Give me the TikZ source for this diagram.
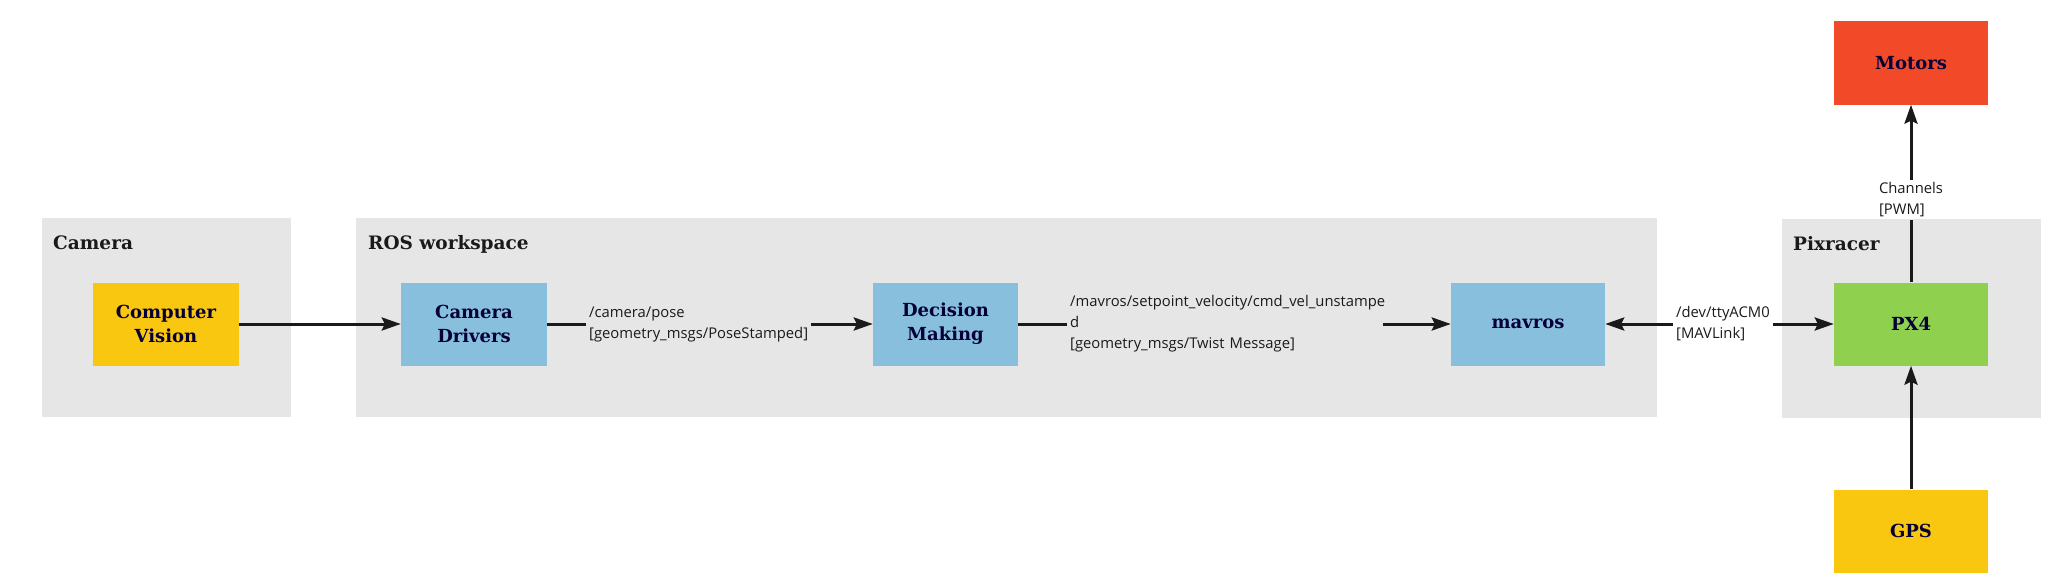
\documentclass[tikz,border=0pt]{standalone}
\usepackage{fontspec}
\setmainfont{DejaVu Serif}
\newfontfamily\lblfont{Open Sans}
\usetikzlibrary{arrows.meta}
\definecolor{grpgray}{HTML}{E6E6E6}
\definecolor{navy}{HTML}{050038}
\definecolor{inkgray}{HTML}{1A1A1A}
\definecolor{camyellow}{HTML}{F9C710}
\definecolor{rosblue}{HTML}{88BFDD}
\definecolor{pxgreen}{HTML}{8FD14F}
\definecolor{motorred}{HTML}{F24A28}

\begin{document}
\begin{tikzpicture}[x=1pt,y=-1pt,
        grp/.style={fill=grpgray,minimum height=199pt,inner sep=0pt},
        grptitle/.style={anchor=base west,inner sep=0pt,text=inkgray,font=\fontsize{18.5}{24}\selectfont\bfseries},
        box/.style={minimum width=146pt,minimum height=83pt,inner sep=0pt,align=center,text=navy,font=\fontsize{18}{24}\selectfont\bfseries},
        lbl/.style={align=left,inner sep=3pt,text=inkgray,font=\lblfont\fontsize{14.8}{21}\selectfont},
        conn/.style={draw=inkgray,line width=3pt},
        flow/.style={conn,-{Stealth[length=19pt,width=13pt,inset=3pt]}}]

    \useasboundingbox (0,0) rectangle (2062,586);

    \node[grp,minimum width=249pt] (camera) at (166.5,317.5) {};
    \node[grp,minimum width=1301pt] (ros) at (1006.5,317.5) {};
    \node[grp,minimum width=259pt] (pixracer) at (1911.5,318.5) {};
    \node[grptitle] (cameratitle) at (53,249) {Camera};
    \node[grptitle] (rostitle) at (368,249) {ROS workspace};
    \node[grptitle] (pixracertitle) at (1793,250) {Pixracer};

    \node[box,fill=camyellow] (cv) at (166,324) {Computer\\Vision};
    \node[box,fill=rosblue] (drivers) at (474,324) {Camera\\Drivers};
    \node[box,fill=rosblue,minimum width=145pt] (decision) at (945.5,324) {Decision\\Making};
    \node[box,fill=rosblue,minimum width=154pt] (mavros) at (1528,324) {mavros};
    \node[box,fill=pxgreen,minimum width=154pt] (px4) at (1911,324) {PX4};
    \node[box,fill=motorred,minimum width=154pt] (motors) at (1911,63) {Motors};
    \node[box,fill=camyellow,minimum width=154pt] (gps) at (1911,531) {GPS};

    \node[lbl,anchor=west] (pose) at (586,324) {/camera/pose\\{}[geometry\_msgs/PoseStamped]};
    \node[lbl,anchor=west,text width=310pt] (cmdvel) at (1067,324) {/mavros/setpoint\_velocity/cmd\_vel\_unstampe\\d\\{}[geometry\_msgs/Twist Message]};
    \node[lbl,anchor=west] (tty) at (1673,324) {/dev/ttyACM0\\{}[MAVLink]};
    \node[lbl] (channels) at (1911,200) {Channels\\{}[PWM]};

    \draw[flow] (cv) -- (drivers);
    \draw[conn] (drivers) -- (pose);
    \draw[flow] (pose) -- (decision);
    \draw[conn] (decision) -- (cmdvel);
    \draw[flow] (cmdvel) -- (mavros);
    \draw[flow] (tty) -- (mavros);
    \draw[flow] (tty) -- (px4);
    \draw[conn] (px4) -- (channels);
    \draw[flow] (channels) -- (motors);
    \draw[flow] (gps) -- (px4);
\end{tikzpicture}
\end{document}
